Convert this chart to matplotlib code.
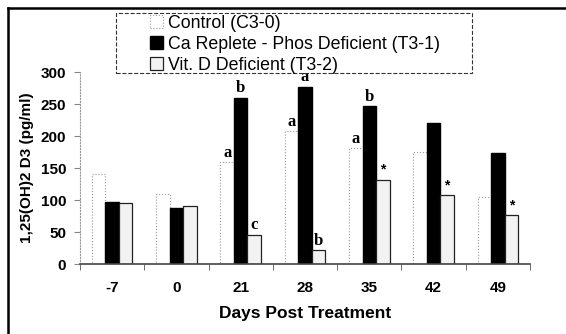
import numpy as np
import matplotlib.pyplot as plt
from matplotlib.patches import Rectangle
from matplotlib.lines import Line2D

# datos
days = ["-7", "0", "21", "28", "35", "42", "49"]
control = [140, 110, 159, 208, 181, 175, 104]
phos_def = [97, 88, 260, 277, 247, 220, 174]
vitd_def = [95, 91, 46, 22, 132, 108, 76]

labels_control = ["", "", "a", "a", "a", "", ""]
labels_phos = ["", "", "b", "a", "b", "", ""]
labels_vitd = ["", "", "c", "b", "*", "*", "*"]

W, H = 566, 334
fig = plt.figure(figsize=(W / 100, H / 100), dpi=100)
ax = fig.add_axes([80 / W, 1 - 264 / H, 450 / W, 192 / H])

x = np.arange(len(days))
w = 0.21
b1 = ax.bar(x - w, control, w, facecolor="white", edgecolor="#9a9a9a",
            linewidth=0.8, linestyle=":", label="Control (C3-0)")
b2 = ax.bar(x, phos_def, w, facecolor="black", edgecolor="black",
            label="Ca Replete - Phos Deficient (T3-1)")
b3 = ax.bar(x + w, vitd_def, w, facecolor="#f2f2f2", edgecolor="#222222",
            linewidth=0.9, label="Vit. D Deficient (T3-2)")

serif = dict(family="Liberation Serif", fontweight="bold", fontsize=12,
             ha="center", va="bottom")
for bars, labs in [(b1, labels_control), (b2, labels_phos), (b3, labels_vitd)]:
    for rect, lab in zip(bars, labs):
        if not lab:
            continue
        cx = rect.get_x() + rect.get_width() / 2
        h = rect.get_height()
        if lab == "*":
            ax.text(cx, h + 4, lab, family="Liberation Sans", fontweight="bold",
                    fontsize=10, ha="center", va="bottom")
        else:
            ax.text(cx, h + 2, lab, **serif)

ax.set_xlim(-0.5, 6.5)
ax.set_ylim(0, 300)
ax.set_yticks(np.arange(0, 301, 50))
ax.set_xticks(x)
ax.set_xticklabels(days)
ax.set_xticks(np.arange(-0.5, 7, 1), minor=True)
ax.tick_params(axis="x", which="major", length=0, pad=12)
ax.tick_params(axis="x", which="minor", length=4, direction="out", color="#555555")
ax.tick_params(axis="y", length=4, color="#888888", pad=6)
for t in ax.get_xticklabels() + ax.get_yticklabels():
    t.set_family("Liberation Sans")
    t.set_fontweight("bold")
    t.set_fontsize(11)

ax.spines["top"].set_visible(False)
ax.spines["right"].set_visible(False)
ax.spines["left"].set_color("#999999")
ax.spines["left"].set_linestyle(":")
ax.spines["bottom"].set_color("#444444")
ax.spines["bottom"].set_linewidth(1.2)

ax.set_ylabel("1,25(OH)2 D3 (pg/ml)", family="Liberation Sans",
              fontweight="bold", fontsize=11, labelpad=5)
ax.set_xlabel("Days Post Treatment", family="Liberation Sans",
              fontweight="bold", fontsize=12.5, labelpad=8)

# leyenda con caja propia
leg = fig.legend(handles=[b1, b2, b3], loc="upper left",
                 bbox_to_anchor=(150 / W, 1 - 15 / H), frameon=False,
                 prop={"family": "Liberation Sans", "size": 12.8},
                 handlelength=0.75, handleheight=0.75, handletextpad=0.25,
                 labelspacing=0.22, borderpad=0, borderaxespad=0)
fig.patches.append(Rectangle((116 / W, 1 - 73 / H), 356 / W, 60 / H,
                             transform=fig.transFigure, fill=False,
                             edgecolor="#333333", linestyle="--", linewidth=0.8))

# marco exterior (solo arriba e izquierda)
fig.add_artist(Line2D([8 / W, 1], [1 - 8 / H, 1 - 8 / H], transform=fig.transFigure,
                      color="black", linewidth=1.8))
fig.add_artist(Line2D([8 / W, 8 / W], [1 - 8 / H, 0], transform=fig.transFigure,
                      color="black", linewidth=1.8))

plt.savefig("out.png", dpi=100)
